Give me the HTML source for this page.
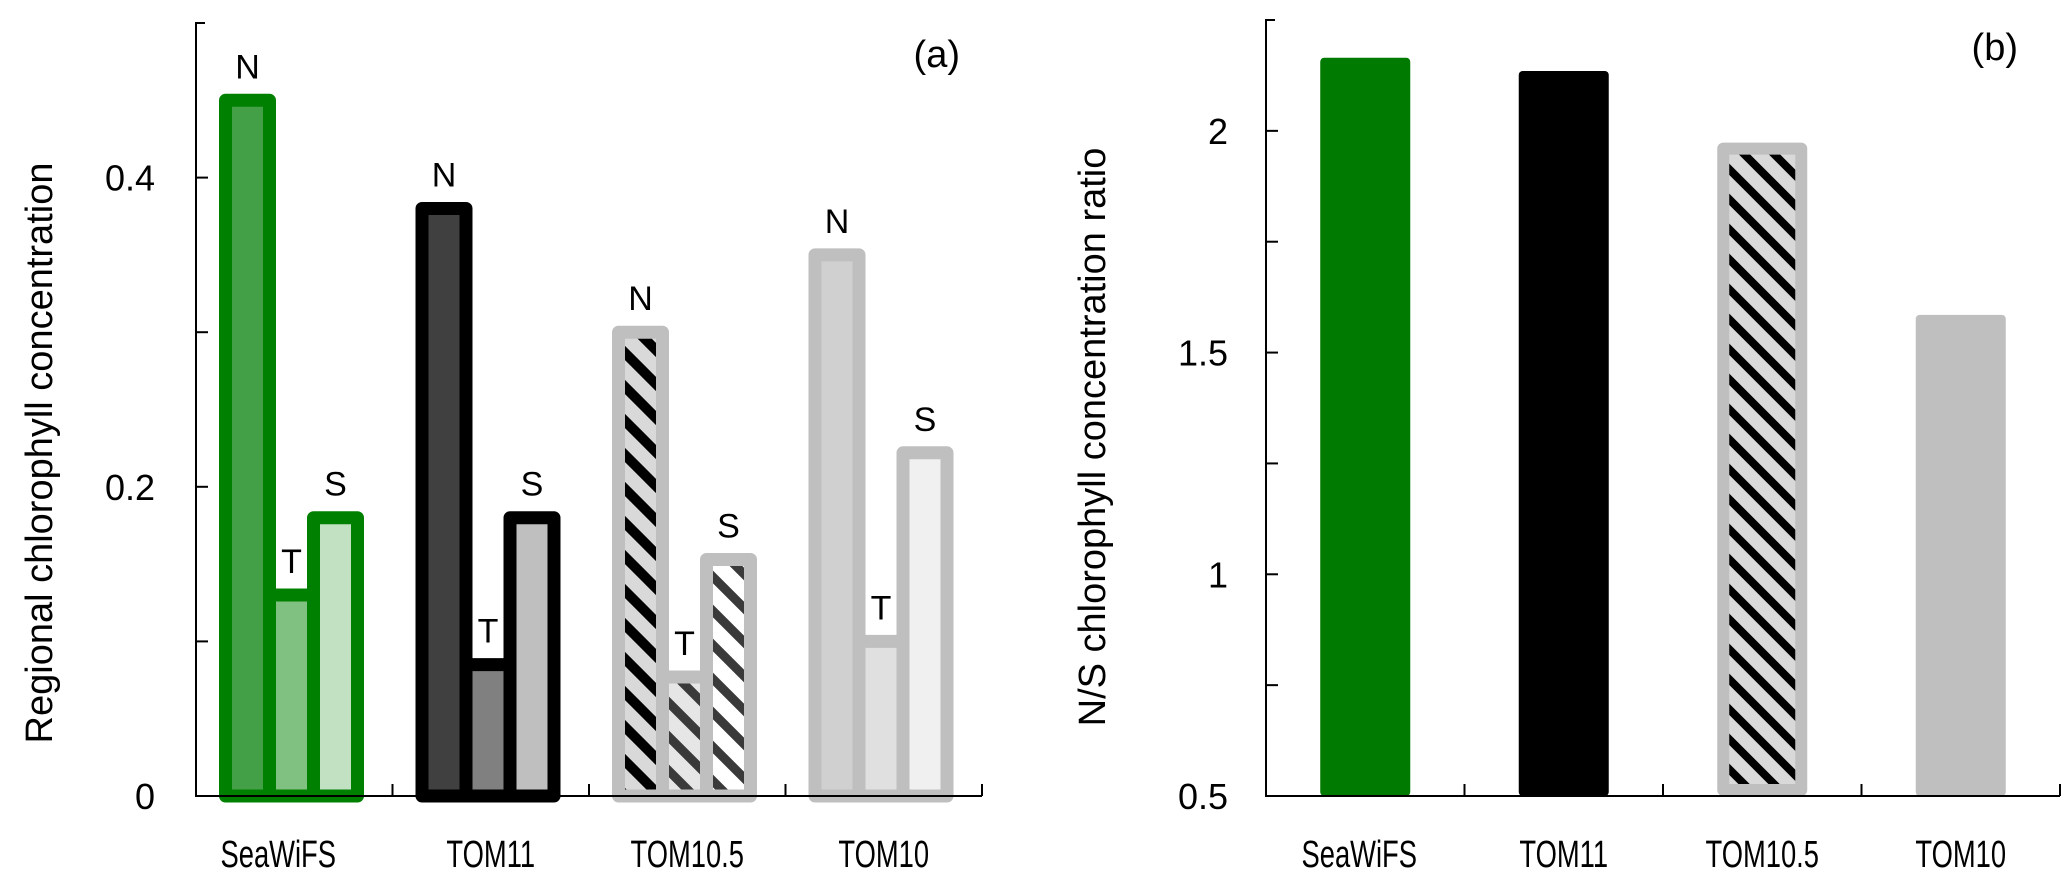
<!DOCTYPE html>
<html><head><meta charset="utf-8">
<style>
html,body{margin:0;padding:0;background:#fff;}
svg{display:block;font-family:"Liberation Sans",sans-serif;}
</style></head>
<body>
<svg id="chart" width="2067" height="885" viewBox="0 0 2067 885" xmlns="http://www.w3.org/2000/svg">
<defs>
  <pattern id="hatchBlack" patternUnits="userSpaceOnUse" width="34" height="34">
    <rect width="34" height="34" fill="#d9d9d9"/>
    <path d="M-8,-8 L42,42 M-8,26 L8,42 M26,-8 L42,8" stroke="#000" stroke-width="10"/>
  </pattern>
  <pattern id="hatchDarkT" patternUnits="userSpaceOnUse" width="34" height="34">
    <rect width="34" height="34" fill="#e6e6e6"/>
    <path d="M-8,-8 L42,42 M-8,26 L8,42 M26,-8 L42,8" stroke="#3a3a3a" stroke-width="9"/>
  </pattern>
  <pattern id="hatchDarkS" patternUnits="userSpaceOnUse" width="34" height="34">
    <rect width="34" height="34" fill="#ffffff"/>
    <path d="M-8,-8 L42,42 M-8,26 L8,42 M26,-8 L42,8" stroke="#3a3a3a" stroke-width="9"/>
  </pattern>
  <pattern id="hatchB" patternUnits="userSpaceOnUse" width="30" height="30">
    <rect width="30" height="30" fill="#d9d9d9"/>
    <path d="M-8,-8 L38,38 M-8,22 L8,38 M22,-8 L38,8" stroke="#000" stroke-width="8"/>
  </pattern>
</defs>
<g id="panelA"></g>
<g id="panelB"></g>
</svg>
<script>
// Panel (a) data
const categoriesA = ["SeaWiFS", "TOM11", "TOM10.5", "TOM10"];
const regionsA = ["N", "T", "S"];
const valuesN = [0.45, 0.38, 0.30, 0.35];
const valuesT = [0.13, 0.085, 0.077, 0.10];
const valuesS = [0.18, 0.18, 0.153, 0.222];
const yTicksA = [0, 0.1, 0.2, 0.3, 0.4, 0.5];
const yTickLabelsA = ["0", "", "0.2", "", "0.4", ""];
// Panel (b) data
const categoriesB = ["SeaWiFS", "TOM11", "TOM10.5", "TOM10"];
const valuesB = [2.165, 2.135, 1.96, 1.585];
const yTicksB = [0.5, 0.75, 1, 1.25, 1.5, 1.75, 2, 2.25];
const yTickLabelsB = ["0.5", "", "1", "", "1.5", "", "2", ""];

const NS = "http://www.w3.org/2000/svg";
function mk(tag, attrs, parent){
  const e = document.createElementNS(NS, tag);
  for (const k in attrs) e.setAttribute(k, attrs[k]);
  parent.appendChild(e);
  return e;
}
function squeeze(t){
  const w = t.getComputedTextLength();
  t.setAttribute("textLength", (w * 0.72).toFixed(1));
  t.setAttribute("lengthAdjust", "spacingAndGlyphs");
}

// ---------- Panel A ----------
(function(){
  const g = document.getElementById("panelA");
  const x0 = 196, x1 = 982, yBase = 796, yTopPx = 23, vMax = 0.5;
  const yA = v => yBase - (yBase - yTopPx) * v / vMax;
  const groupW = (x1 - x0) / categoriesA.length;
  const strokes = ["#008000", "#000000", "#bfbfbf", "#bfbfbf"];
  const fills = [
    ["#43a047", "#80c080", "#c2e0c2"],
    ["#404040", "#808080", "#bfbfbf"],
    ["url(#hatchBlack)", "url(#hatchDarkT)", "url(#hatchDarkS)"],
    ["#d0d0d0", "#e0e0e0", "#f0f0f0"]
  ];
  const series = [valuesN, valuesT, valuesS];
  const barW = 44;
  categoriesA.forEach((c, i) => {
    const gx = x0 + i * groupW + 29.5;
    series.forEach((vals, j) => {
      const v = vals[i];
      const bx = gx + j * barW;
      const top = yA(v);
      const r = mk("rect", {x: bx, y: top, width: barW, height: yBase - top,
        fill: fills[i][j], stroke: strokes[i], "stroke-width": 13, "stroke-linejoin": "round"}, g);
      
      
      const t = mk("text", {x: bx + barW / 2, y: top - 22, "text-anchor": "middle", "font-size": 34, fill: "#000"}, g);
      t.textContent = regionsA[j];
      
      
    });
    const cl = mk("text", {x: x0 + i * groupW + groupW / 2 + (i === 0 ? -16 : 0), y: 867, "text-anchor": "middle", "font-size": 38, fill: "#000"}, g);
    cl.textContent = c;
    
    
    squeeze(cl);
    if (i > 0) {
      const tk = mk("line", {x1: x0 + i * groupW, x2: x0 + i * groupW, y1: yBase, y2: yBase - 12, stroke: "#000", "stroke-width": 2}, g);
      
      
    }
  });
  const tkEnd = mk("line", {x1: x1, x2: x1, y1: yBase, y2: yBase - 12, stroke: "#000", "stroke-width": 2}, g);
  
  
  const ax = mk("path", {d: `M${x0 + 9},${yTopPx} H${x0} V${yBase} H${x1}`, fill: "none", stroke: "#000", "stroke-width": 2}, g);
  
  
  yTicksA.forEach((v, k) => {
    const y = yA(v);
    if (v > 0 && v < vMax) {
      const tl = mk("line", {x1: x0, x2: x0 + 12, y1: y, y2: y, stroke: "#000", "stroke-width": 2}, g);
      
      
    }
    if (yTickLabelsA[k]) {
      const t = mk("text", {x: 155, y: y + 13, "text-anchor": "end", "font-size": 36, fill: "#000"}, g);
      t.textContent = yTickLabelsA[k];
      
      
    }
  });
  const yt = mk("text", {x: 0, y: 0, transform: "translate(52,453) rotate(-90)", "text-anchor": "middle", "font-size": 38, fill: "#000"}, g);
  yt.textContent = "Regional chlorophyll concentration";
  
  
  const pl = mk("text", {x: 960, y: 67, "text-anchor": "end", "font-size": 38, fill: "#000"}, g);
  pl.textContent = "(a)";
  
  
})();

// ---------- Panel B ----------
(function(){
  const g = document.getElementById("panelB");
  const x0 = 1266, x1 = 2060, yBase = 796, yTopPx = 20, vMin = 0.5, vMax = 2.25;
  const yB = v => yBase - (yBase - yTopPx) * (v - vMin) / (vMax - vMin);
  const groupW = (x1 - x0) / categoriesB.length;
  const fills = ["#007a00", "#000000", "url(#hatchB)", "#bfbfbf"];
  const barW = 90;
  categoriesB.forEach((c, i) => {
    const cx = x0 + i * groupW + groupW / 2;
    const top = yB(valuesB[i]);
    const isHatch = i === 2;
    const r = mk("rect", {x: cx - barW / 2 + (isHatch ? 6 : 0), y: top, width: barW - (isHatch ? 12 : 0), height: yBase - top - (isHatch ? 6 : 0),
      fill: fills[i], rx: isHatch ? 0 : 4,
      stroke: isHatch ? "#bfbfbf" : "none", "stroke-width": isHatch ? 12 : 0, "stroke-linejoin": "round"}, g);
    
    
    const cl = mk("text", {x: cx + (i === 0 ? -6 : 0), y: 867, "text-anchor": "middle", "font-size": 38, fill: "#000"}, g);
    cl.textContent = c;
    
    
    squeeze(cl);
    if (i > 0) {
      const tk = mk("line", {x1: x0 + i * groupW, x2: x0 + i * groupW, y1: yBase, y2: yBase - 12, stroke: "#000", "stroke-width": 2}, g);
      
      
    }
  });
  const tkEnd = mk("line", {x1: x1, x2: x1, y1: yBase, y2: yBase - 12, stroke: "#000", "stroke-width": 2}, g);
  
  
  const ax = mk("path", {d: `M${x0 + 9},${yTopPx} H${x0} V${yBase} H${x1}`, fill: "none", stroke: "#000", "stroke-width": 2}, g);
  
  
  yTicksB.forEach((v, k) => {
    const y = yB(v);
    if (v > vMin && v < vMax) {
      const tl = mk("line", {x1: x0, x2: x0 + 12, y1: y, y2: y, stroke: "#000", "stroke-width": 2}, g);
      
      
    }
    if (yTickLabelsB[k]) {
      const t = mk("text", {x: 1228, y: y + 13, "text-anchor": "end", "font-size": 36, fill: "#000"}, g);
      t.textContent = yTickLabelsB[k];
      
      
    }
  });
  const yt = mk("text", {x: 0, y: 0, transform: "translate(1105,437) rotate(-90)", "text-anchor": "middle", "font-size": 38, fill: "#000"}, g);
  yt.textContent = "N/S chlorophyll concentration ratio";
  
  
  const pl = mk("text", {x: 2018, y: 60, "text-anchor": "end", "font-size": 38, fill: "#000"}, g);
  pl.textContent = "(b)";
  
  
})();
</script>
</body></html>
